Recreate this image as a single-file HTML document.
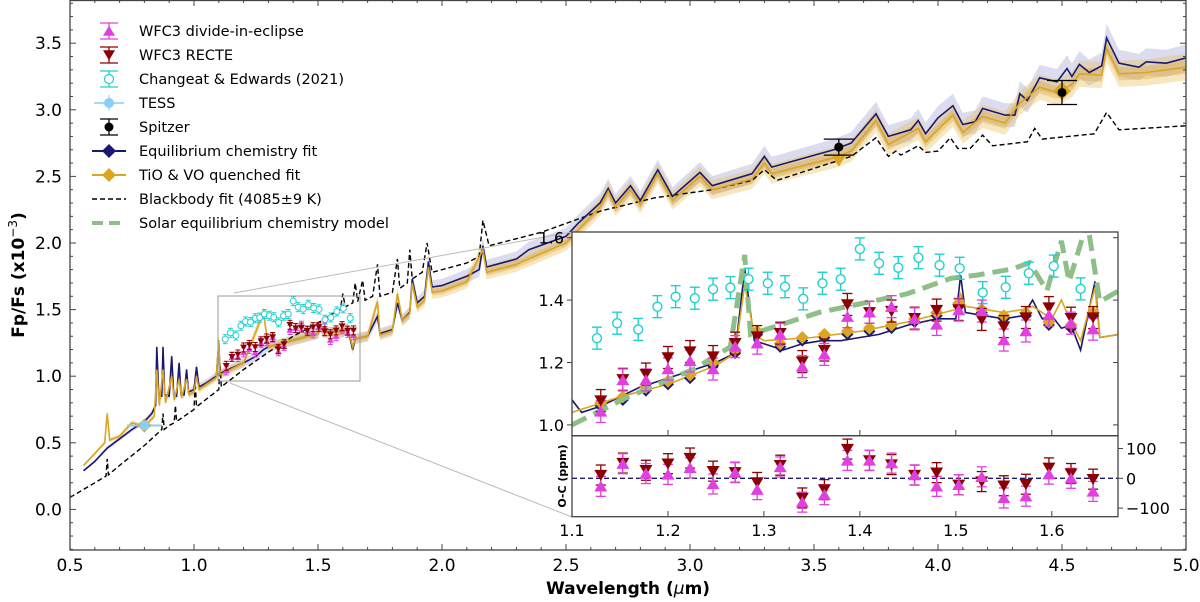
<!DOCTYPE html>
<html><head><meta charset="utf-8"><style>
body{margin:0;background:#fff;}
svg{display:block;font-family:"DejaVu Sans","Liberation Sans",sans-serif;}
</style></head><body>
<svg id="c" width="1200" height="602" viewBox="0 0 1200 602" xmlns="http://www.w3.org/2000/svg"></svg>
<script>
// ---- data ----
const navyW=[0.555,0.6,0.65,0.7,0.75,0.8,0.83,0.845,0.85,0.858,0.87,0.875,0.882,0.9,0.91,0.918,0.93,0.94,0.948,0.96,0.97,0.978,1.0,1.01,1.02,1.05,1.09,1.1,1.105,1.15,1.2,1.25,1.28,1.3,1.4,1.5,1.51,1.52,1.6,1.62,1.64,1.65,1.7,1.74,1.75,1.8,1.82,1.84,1.87,1.88,1.9,1.93,1.945,1.96,2.0,2.1,2.15,2.165,2.18,2.3,2.35,2.5,2.55,2.637,2.67,2.7,2.76,2.8,2.87,2.93,3.04,3.09,3.25,3.3,3.33,3.58,3.65,3.75,3.8,3.89,3.92,3.95,4.0,4.06,4.1,4.15,4.18,4.27,4.31,4.33,4.36,4.41,4.48,4.52,4.54,4.57,4.61,4.66,4.68,4.73,4.81,4.84,4.92,5.0];
const navyV=[0.29,0.36,0.46,0.53,0.6,0.66,0.72,0.78,1.22,0.85,0.85,1.22,0.86,0.85,1.15,0.86,0.85,1.1,0.86,0.86,1.05,0.88,0.9,1.07,0.92,0.95,1.0,1.25,1.02,1.06,1.1,1.15,1.2,1.22,1.27,1.32,1.38,1.33,1.33,1.36,1.2,1.28,1.3,1.45,1.32,1.35,1.55,1.42,1.48,1.73,1.55,1.6,1.86,1.67,1.68,1.75,1.8,1.98,1.82,1.88,1.95,2.05,2.15,2.3,2.41,2.3,2.43,2.32,2.55,2.35,2.53,2.43,2.52,2.65,2.57,2.7,2.75,2.97,2.8,2.85,2.92,2.82,2.94,3.03,2.89,2.91,3.01,2.96,2.96,3.12,3.07,3.24,3.21,3.31,3.25,3.34,3.28,3.33,3.54,3.35,3.32,3.36,3.35,3.39];
const goldW=[0.555,0.6,0.64,0.65,0.66,0.7,0.75,0.8,0.84,0.85,0.86,0.875,0.885,0.91,0.92,0.94,0.95,0.97,0.98,1.0,1.01,1.02,1.05,1.09,1.1,1.105,1.2,1.28,1.3,1.4,1.5,1.51,1.52,1.6,1.62,1.64,1.65,1.7,1.74,1.75,1.8,1.82,1.84,1.87,1.88,1.9,1.93,1.945,1.96,2.0,2.1,2.165,2.18,2.3,2.5,2.637,2.67,2.7,2.76,2.8,2.87,2.93,3.04,3.09,3.25,3.3,3.33,3.58,3.65,3.75,3.8,3.92,3.95,4.06,4.1,4.18,4.27,4.33,4.41,4.48,4.54,4.57,4.66,4.68,4.73,4.84,5.0];
const goldV=[0.33,0.42,0.5,0.72,0.52,0.55,0.65,0.62,0.7,1.05,0.78,1.05,0.8,1.0,0.82,0.98,0.84,0.98,0.86,0.88,1.0,0.9,0.94,0.99,1.27,1.01,1.1,1.48,1.22,1.27,1.32,1.38,1.33,1.33,1.36,1.22,1.28,1.3,1.56,1.31,1.34,1.62,1.42,1.47,1.7,1.52,1.57,1.82,1.63,1.64,1.71,1.95,1.78,1.84,2.0,2.27,2.39,2.27,2.4,2.29,2.52,2.32,2.5,2.4,2.48,2.6,2.52,2.64,2.69,2.92,2.74,2.86,2.76,2.96,2.83,2.95,2.9,3.05,3.17,3.13,3.19,3.27,3.26,3.46,3.27,3.28,3.32];
const bbW=[0.5,0.6,0.645,0.65,0.655,0.7,0.8,0.87,0.875,0.88,0.9,0.92,0.925,0.93,1.0,1.005,1.01,1.1,1.105,1.11,1.2,1.3,1.4,1.5,1.55,1.59,1.6,1.61,1.64,1.65,1.66,1.68,1.69,1.72,1.74,1.75,1.8,1.82,1.83,1.86,1.87,1.88,1.92,1.94,1.96,2.1,2.15,2.165,2.19,2.4,2.64,2.86,3.09,3.25,3.3,3.35,3.6,3.65,3.75,3.8,3.83,3.85,3.92,3.95,4.0,4.05,4.08,4.13,4.18,4.22,4.36,4.39,4.42,4.63,4.68,4.73,5.0];
const bbV=[0.09,0.2,0.25,0.38,0.26,0.33,0.48,0.6,0.72,0.6,0.63,0.65,0.78,0.66,0.75,0.95,0.77,0.9,1.1,0.92,1.05,1.18,1.3,1.4,1.46,1.5,1.62,1.52,1.55,1.7,1.56,1.72,1.57,1.6,1.84,1.6,1.63,1.88,1.66,1.7,1.95,1.73,1.78,2.0,1.78,1.85,1.9,2.17,1.98,2.08,2.24,2.34,2.4,2.47,2.55,2.47,2.62,2.65,2.79,2.65,2.69,2.66,2.73,2.68,2.69,2.79,2.71,2.71,2.81,2.73,2.76,2.86,2.78,2.82,2.98,2.85,2.88];
const wfcW=[1.13,1.153,1.177,1.2,1.223,1.247,1.27,1.293,1.317,1.34,1.363,1.387,1.41,1.433,1.457,1.48,1.503,1.527,1.55,1.573,1.597,1.62,1.643];
const recteV=[1.078,1.146,1.163,1.216,1.235,1.219,1.262,1.283,1.294,1.203,1.24,1.386,1.361,1.365,1.342,1.368,1.37,1.338,1.315,1.344,1.376,1.342,1.344];
const dieV=[1.043,1.144,1.144,1.179,1.205,1.179,1.251,1.262,1.29,1.187,1.226,1.347,1.361,1.379,1.34,1.322,1.368,1.365,1.272,1.301,1.352,1.326,1.307];
const recteRes=[11,51,27,49,68,24,20,-14,44,-66,-38,98,60,46,11,19,-22,-11,-25,-20,35,16,-3];
const dieRes=[-27,49,16,13,35,-19,19,-38,38,-80,-55,60,60,51,11,-27,-22,5,-66,-60,14,0,-44];
const ceW=[1.126,1.147,1.169,1.189,1.208,1.228,1.247,1.265,1.284,1.304,1.322,1.341,1.361,1.38,1.4,1.42,1.44,1.461,1.483,1.504,1.528,1.552,1.576,1.602,1.63];
const ceV=[1.278,1.326,1.306,1.379,1.411,1.406,1.435,1.44,1.467,1.454,1.443,1.404,1.454,1.467,1.564,1.518,1.504,1.536,1.512,1.502,1.424,1.441,1.486,1.509,1.436];
const fitDiaV=[1.07,1.09,1.12,1.14,1.16,1.2,1.24,1.3,1.26,1.28,1.29,1.3,1.31,1.32,1.34,1.36,1.39,1.37,1.35,1.36,1.33,1.32,1.36];
const inNavyW=[1.1,1.11,1.13,1.15,1.17,1.2,1.22,1.25,1.27,1.28,1.29,1.3,1.32,1.34,1.36,1.38,1.4,1.42,1.45,1.48,1.5,1.505,1.51,1.53,1.55,1.57,1.58,1.59,1.6,1.61,1.62,1.63,1.645,1.65,1.67];
const inNavyV=[1.08,1.04,1.06,1.09,1.12,1.15,1.17,1.2,1.23,1.5,1.27,1.26,1.24,1.26,1.27,1.27,1.28,1.29,1.32,1.34,1.34,1.48,1.36,1.35,1.34,1.35,1.4,1.34,1.35,1.31,1.32,1.24,1.46,1.28,1.29];
const inGoldW=[1.1,1.13,1.15,1.2,1.25,1.27,1.28,1.29,1.3,1.35,1.4,1.45,1.5,1.505,1.51,1.55,1.57,1.58,1.6,1.61,1.62,1.63,1.645,1.65,1.67];
const inGoldV=[1.04,1.07,1.09,1.13,1.19,1.23,1.45,1.29,1.27,1.28,1.3,1.33,1.37,1.42,1.38,1.36,1.37,1.38,1.34,1.4,1.33,1.27,1.44,1.28,1.29];
const solW=[1.1,1.155,1.228,1.265,1.28,1.286,1.357,1.449,1.495,1.522,1.559,1.577,1.595,1.61,1.618,1.637,1.65,1.67];
const solV=[1.0,1.085,1.18,1.25,1.545,1.29,1.36,1.42,1.47,1.48,1.5,1.52,1.43,1.59,1.46,1.65,1.395,1.43];
const spitzerW=[3.6,4.5], spitzerV=[2.72,3.13], spitzerErr=[0.06,0.09];
const xTicks=["0.5","1.0","1.5","2.0","2.5","3.0","3.5","4.0","4.5","5.0"];
const yTicks=["0.0","0.5","1.0","1.5","2.0","2.5","3.0","3.5"];
const inXTicks=["1.1","1.2","1.3","1.4","1.5","1.6"];
const inYTicks=["1.0","1.2","1.4","1.6"];
const resTicks=["100","0","\u2212100"];

// ---- scales ----
const X=w=>70+(w-0.5)*248, Y=v=>509.4-133.2*v;
const IX=w=>572+(w-1.1)*959.6, IY=v=>237.7+(1.6-v)*312, RY=r=>478.3-r*0.298;
const NS="http://www.w3.org/2000/svg", svg=document.getElementById('c');
function mk(tag,attrs,parent){const e=document.createElementNS(NS,tag);for(const k in attrs)e.setAttribute(k,attrs[k]);(parent||svg).appendChild(e);return e;}
function pts(ws,vs,fx,fy){return ws.map((w,i)=>fx(w).toFixed(1)+','+fy(vs[i]).toFixed(1)).join(' ');}
function band(ws,vs,fx,fy,frac,fill,op){const up=ws.map((w,i)=>fx(w).toFixed(1)+','+fy(vs[i]*(1+frac)).toFixed(1));const dn=ws.map((w,i)=>fx(w).toFixed(1)+','+fy(vs[i]*(1-frac)).toFixed(1)).reverse();return {points:up.concat(dn).join(' '),fill:fill,opacity:op};}
function tri(cx,cy,s,down){return down?`${cx-s},${cy-s*0.8} ${cx+s},${cy-s*0.8} ${cx},${cy+s*0.9}`:`${cx-s},${cy+s*0.8} ${cx+s},${cy+s*0.8} ${cx},${cy-s*0.9}`;}
function dia(cx,cy,s){return `${cx},${cy-s} ${cx+s},${cy} ${cx},${cy+s} ${cx-s},${cy}`;}

mk('defs',{}).innerHTML='<clipPath id="mc"><rect x="70" y="0" width="1116" height="550"/></clipPath><clipPath id="ic"><rect x="572" y="232" width="546" height="204"/></clipPath><clipPath id="rc"><rect x="572" y="436" width="546" height="81"/></clipPath>';

// ---- main panel ----
const main=mk('g',{'clip-path':'url(#mc)'});


let b;
b=mk('polygon',band(navyW,navyV,X,Y,0.03,'#9a9ad0',0.35),main);

b=mk('polygon',band(goldW,goldV,X,Y,0.03,'#e8b94a',0.35),main);

b=mk('polygon',band(goldW,goldV,X,Y,0.015,'#d7a23a',0.35),main);

let l=mk('polyline',{points:pts(bbW,bbV,X,Y),fill:'none',stroke:'#000','stroke-width':1.4,'stroke-dasharray':'5,3'},main);

l=mk('polyline',{points:pts(navyW,navyV,X,Y),fill:'none',stroke:'#191970','stroke-width':1.6},main);

l=mk('polyline',{points:pts(goldW,goldV,X,Y),fill:'none',stroke:'#daa520','stroke-width':1.6},main);

// TESS
let g=mk('g',{},main);

mk('line',{x1:X(0.73),x2:X(0.87),y1:Y(0.63),y2:Y(0.63),stroke:'#87cefa','stroke-width':2},g);
mk('polygon',{points:dia(X(0.8),Y(0.63),7),fill:'#daa520'},g);
mk('circle',{cx:X(0.8),cy:Y(0.63),r:5,fill:'#87cefa'},g);
// Spitzer
spitzerW.forEach((w,i)=>{const s=mk('g',{},main);


const cx=X(w),cy=Y(spitzerV[i]);
if(i==0)mk('polygon',{points:tri(cx,Y(2.62),7,true),fill:'#daa520'},s);else mk('polygon',{points:dia(cx,Y(3.14),9),fill:'#daa520'},s);
mk('line',{x1:cx,x2:cx,y1:Y(spitzerV[i]+spitzerErr[i]),y2:Y(spitzerV[i]-spitzerErr[i]),stroke:'#000','stroke-width':1.3},s);
mk('line',{x1:cx-15,x2:cx+15,y1:Y(spitzerV[i]+spitzerErr[i]),y2:Y(spitzerV[i]+spitzerErr[i]),stroke:'#000','stroke-width':1.3},s);
mk('line',{x1:cx-15,x2:cx+15,y1:Y(spitzerV[i]-spitzerErr[i]),y2:Y(spitzerV[i]-spitzerErr[i]),stroke:'#000','stroke-width':1.3},s);
mk('circle',{cx:cx,cy:cy,r:4.5,fill:'#000'},s);});
// main data points
function errPt(par,cx,cy,eh,cap,col,sw){mk('line',{x1:cx,x2:cx,y1:cy-eh,y2:cy+eh,stroke:col,'stroke-width':sw},par);mk('line',{x1:cx-cap,x2:cx+cap,y1:cy-eh,y2:cy-eh,stroke:col,'stroke-width':sw},par);mk('line',{x1:cx-cap,x2:cx+cap,y1:cy+eh,y2:cy+eh,stroke:col,'stroke-width':sw},par);}
ceW.forEach((w,i)=>{const p=mk('g',{},main);


errPt(p,X(w),Y(ceV[i]),4.5,2.5,'#22d0d0',1);mk('circle',{cx:X(w),cy:Y(ceV[i]),r:3,fill:'#fff',stroke:'#22d0d0','stroke-width':1},p);});
wfcW.forEach((w,i)=>{const p=mk('g',{},main);


errPt(p,X(w),Y(dieV[i]),4.5,2.5,'#e040e0',1);mk('polygon',{points:tri(X(w),Y(dieV[i]),3.5,false),fill:'#e040e0'},p);
errPt(p,X(w),Y(recteV[i]),4.5,2.5,'#8b0000',1);mk('polygon',{points:tri(X(w),Y(recteV[i]),3.5,true),fill:'#8b0000'},p);});

// zoom rectangle + connectors
let r=mk('rect',{x:218,y:296,width:142,height:85,fill:'none',stroke:'#999','stroke-width':1});

l=mk('line',{x1:234,y1:293,x2:572,y2:232,stroke:'#bbb','stroke-width':1});

l=mk('line',{x1:230,y1:383,x2:572,y2:517,stroke:'#bbb','stroke-width':1});


// main axes
const ax=mk('g',{});

mk('rect',{x:70,y:0.5,width:1116,height:549.5,fill:'none',stroke:'#444','stroke-width':1.3},ax);
for(let k=0;k<=45;k++){const x=X(0.5+k*0.1),L=k%5==0?6:3;mk('line',{x1:x,x2:x,y1:550,y2:550-L,stroke:'#444'},ax);mk('line',{x1:x,x2:x,y1:0,y2:L,stroke:'#444'},ax);}
for(let k=-3;k<=38;k++){const y=Y(k*0.1),L=k%5==0?6:3;mk('line',{x1:70,x2:70+L,y1:y,y2:y,stroke:'#444'},ax);mk('line',{x1:1186,x2:1186-L,y1:y,y2:y,stroke:'#444'},ax);}
xTicks.forEach(t=>{const e=mk('text',{x:X(parseFloat(t)),y:571,'font-size':17,'text-anchor':'middle',fill:'#000'},ax);e.textContent=t;});
yTicks.forEach(t=>{const e=mk('text',{x:62,y:Y(parseFloat(t))+6,'font-size':17,'text-anchor':'end',fill:'#000'},ax);e.textContent=t;});
let t=mk('text',{x:628,y:594,'font-size':17,'font-weight':'bold','text-anchor':'middle'});

t.innerHTML='Wavelength (<tspan font-style="italic" font-weight="normal">μ</tspan>m)';
t=mk('text',{x:0,y:0,'font-size':17,'font-weight':'bold','text-anchor':'middle',transform:'translate(24,275) rotate(-90)'});

t.innerHTML='Fp/Fs (x10<tspan dy="-7" font-size="12" font-weight="normal">−3</tspan><tspan dy="7">)</tspan>';

// legend
const leg=mk('g',{});

const legY=[31,55,79,103,127,151,175,199,223];
const legT=['WFC3 divide-in-eclipse','WFC3 RECTE','Changeat & Edwards (2021)','TESS','Spitzer','Equilibrium chemistry fit','TiO & VO quenched fit','Blackbody fit (4085±9 K)','Solar equilibrium chemistry model'];
const mx=109;
legT.forEach((s,i)=>{const e=mk('g',{},leg);


const y=legY[i];
if(i<5){const col=['#e040e0','#8b0000','#22d0d0','#87cefa','#000'][i];
 if(i==3)mk('line',{x1:mx-15,x2:mx+15,y1:y,y2:y,stroke:col,'stroke-width':1.5},e);
 else{mk('line',{x1:mx,x2:mx,y1:y-8,y2:y+8,stroke:col,'stroke-width':1.3},e);mk('line',{x1:mx-9,x2:mx+9,y1:y-8,y2:y-8,stroke:col,'stroke-width':1.3},e);mk('line',{x1:mx-9,x2:mx+9,y1:y+8,y2:y+8,stroke:col,'stroke-width':1.3},e);}
 if(i==0)mk('polygon',{points:tri(mx,y,6,false),fill:col},e);
 if(i==1)mk('polygon',{points:tri(mx,y,6,true),fill:col},e);
 if(i==2)mk('circle',{cx:mx,cy:y,r:4.5,fill:'#fff',stroke:col,'stroke-width':1.2},e);
 if(i==3){mk('line',{x1:mx,x2:mx,y1:y-8,y2:y+8,stroke:col,'stroke-width':1},e);mk('circle',{cx:mx,cy:y,r:5,fill:col},e);}
 if(i==4)mk('circle',{cx:mx,cy:y,r:4.5,fill:col},e);
}else if(i<7){const col=i==5?'#191970':'#daa520';mk('line',{x1:mx-17,x2:mx+17,y1:y,y2:y,stroke:col,'stroke-width':2},e);mk('polygon',{points:dia(mx,y,7),fill:col},e);}
else if(i==7)mk('line',{x1:mx-17,x2:mx+17,y1:y,y2:y,stroke:'#000','stroke-width':1.4,'stroke-dasharray':'5,3'},e);
else mk('line',{x1:mx-17,x2:mx+17,y1:y,y2:y,stroke:'#8fbf88','stroke-width':4,'stroke-dasharray':'11,6'},e);
const tx=mk('text',{x:139,y:y+5,'font-size':14.5,fill:'#000'},e);tx.textContent=s;});

// ---- inset ----
const ins=mk('g',{});

mk('rect',{x:572,y:232,width:546,height:285,fill:'#fff'},ins);
const ip=mk('g',{'clip-path':'url(#ic)'},ins);

l=mk('polyline',{points:pts(inNavyW,inNavyV,IX,IY),fill:'none',stroke:'#191970','stroke-width':1.6},ip);

l=mk('polyline',{points:pts(inGoldW,inGoldV,IX,IY),fill:'none',stroke:'#daa520','stroke-width':1.6},ip);

wfcW.forEach((w,i)=>{const d=mk('polygon',{points:dia(IX(w),IY(fitDiaV[i]-0.01),6),fill:'#191970'},ip);

const d2=mk('polygon',{points:dia(IX(w),IY(fitDiaV[i]),6.5),fill:'#daa520'},ip);
});
l=mk('polyline',{points:pts(solW,solV,IX,IY),fill:'none',stroke:'#8fbf88','stroke-width':5,'stroke-dasharray':'16,8'},ip);

ceW.forEach((w,i)=>{const p=mk('g',{},ip);


errPt(p,IX(w),IY(ceV[i]),11,5,'#22d0d0',1.4);mk('circle',{cx:IX(w),cy:IY(ceV[i]),r:4.5,fill:'#fff',stroke:'#22d0d0','stroke-width':1.4},p);});
wfcW.forEach((w,i)=>{const p=mk('g',{},ip);


errPt(p,IX(w),IY(recteV[i]),11,5,'#8b0000',1.3);
errPt(p,IX(w),IY(dieV[i]),11,5,'#e040e0',1.3);
mk('polygon',{points:tri(IX(w),IY(recteV[i]),6.5,true),fill:'#8b0000'},p);
mk('polygon',{points:tri(IX(w),IY(dieV[i]),6.5,false),fill:'#e040e0'},p);});
// residuals
const rp=mk('g',{'clip-path':'url(#rc)'},ins);

l=mk('line',{x1:572,x2:1118,y1:RY(0),y2:RY(0),stroke:'#191970','stroke-width':1.3,'stroke-dasharray':'5,3'},rp);

wfcW.forEach((w,i)=>{const p=mk('g',{},rp);


errPt(p,IX(w),RY(recteRes[i]),10,5,'#8b0000',1.3);
errPt(p,IX(w),RY(dieRes[i]),10,5,'#e040e0',1.3);
mk('polygon',{points:tri(IX(w),RY(recteRes[i]),6.5,true),fill:'#8b0000'},p);
mk('polygon',{points:tri(IX(w),RY(dieRes[i]),6.5,false),fill:'#e040e0'},p);});
// inset frames & ticks
mk('rect',{x:572,y:232,width:546,height:203.7,fill:'none',stroke:'#444','stroke-width':1.3},ins);
mk('rect',{x:572,y:435.7,width:546,height:81,fill:'none',stroke:'#444','stroke-width':1.3},ins);
for(let k=0;k<=5;k++){const x=IX(1.1+k*0.1);mk('line',{x1:x,x2:x,y1:517,y2:511,stroke:'#444'},ins);mk('line',{x1:x,x2:x,y1:435.7,y2:430,stroke:'#444'},ins);}
inXTicks.forEach(s=>{const e=mk('text',{x:IX(parseFloat(s)),y:536,'font-size':16,'text-anchor':'middle'},ins);e.textContent=s;});
inYTicks.forEach(s=>{const y=IY(parseFloat(s));mk('line',{x1:572,x2:567,y1:y,y2:y,stroke:'#444'},ins);mk('line',{x1:1118,x2:1113,y1:y,y2:y,stroke:'#444'},ins);const e=mk('text',{x:564,y:y+6,'font-size':16,'text-anchor':'end'},ins);e.textContent=s;});
resTicks.forEach(s=>{const v=parseFloat(s.replace('\u2212','-'));const y=RY(v);mk('line',{x1:1118,x2:1123,y1:y,y2:y,stroke:'#444'},ins);const e=mk('text',{x:1126,y:y+6,'font-size':16},ins);e.textContent=s;});
t=mk('text',{x:0,y:0,'font-size':11,'font-weight':'bold','text-anchor':'middle',transform:'translate(566,476) rotate(-90)'},ins);

t.textContent='O-C (ppm)';
</script>
</body></html>
